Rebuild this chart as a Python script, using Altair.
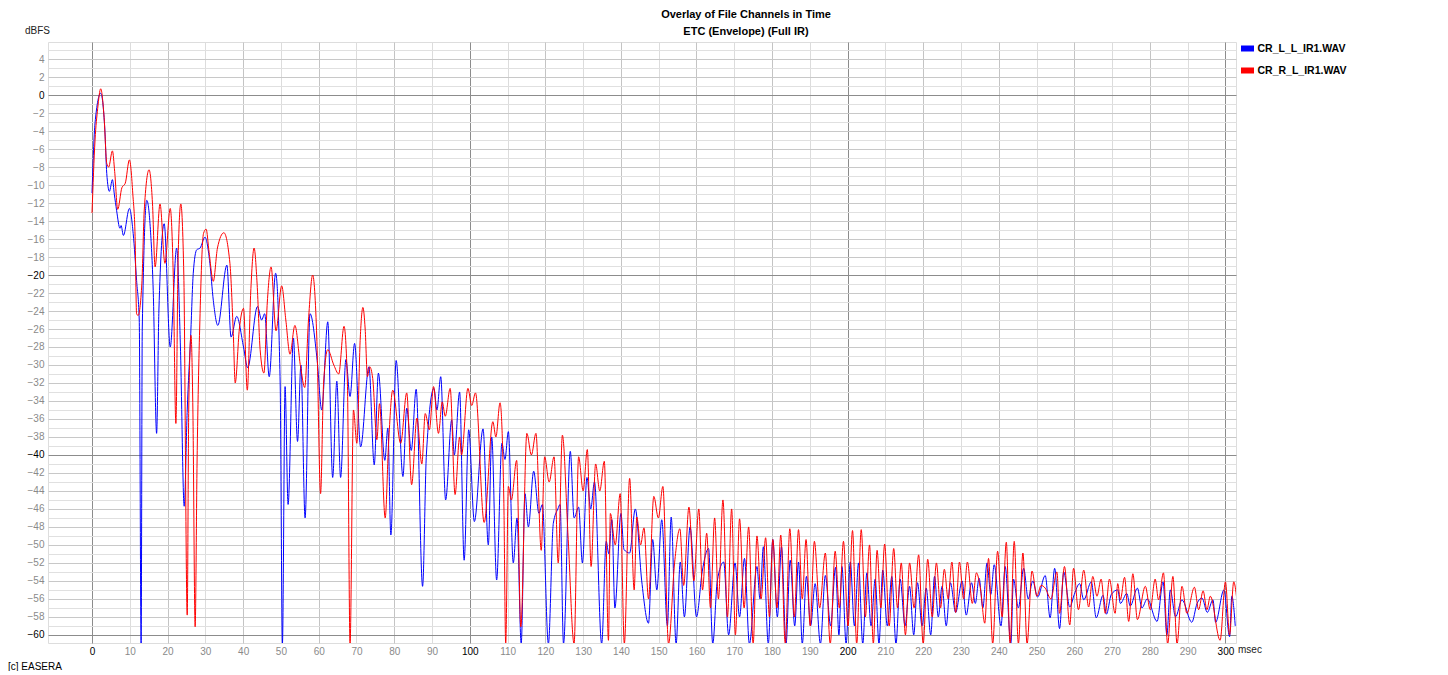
import altair as alt
import pandas as pd

series_names = ["CR_L_L_IR1.WAV", "CR_R_L_IR1.WAV"]
series_colors = ["#0000ff", "#ff0000"]

title_text = "Overlay of File Channels in Time"
subtitle_text = "ETC (Envelope) (Full IR)"
y_unit = "dBFS"
x_unit = "msec"
credit = "[c] EASERA"

x_ticks = list(range(0, 301, 10))
y_grid = list(range(-60, 6))

blue_t = [0.0, 0.8, 2.3, 3.4, 3.9, 4.6, 5.4, 5.9, 6.5, 7.4, 7.7, 8.3, 9.9, 10.9, 11.8, 12.5, 13.0, 13.3, 14.5, 15.4,
          16.2, 17.1, 17.7, 19.1, 20.7, 22.4, 23.4, 24.4, 25.2, 26.1, 26.8, 27.7, 28.6, 29.9, 31.2, 32.1, 33.3, 35.7, 36.8, 38.3,
          40.1, 41.2, 43.8, 44.9, 45.7, 46.9, 48.6, 49.8, 50.4, 51.1, 51.9, 53.3, 54.4, 55.3, 56.4, 57.7, 59.6, 60.8, 62.4, 63.7,
          64.8, 65.8, 67.2, 68.3, 69.5, 71.1, 73.3, 74.7, 75.8, 77.5, 78.3, 79.1, 80.5, 82.3, 83.3, 84.5, 85.8, 87.5, 88.5, 90.5,
          91.3, 92.3, 93.6, 95.2, 95.9, 97.3, 98.5, 99.7, 101.2, 103.5, 104.9, 105.8, 107.1, 108.5, 109.3, 110.2, 111.5, 112.5, 113.6, 114.6,
          115.5, 116.9, 118.3, 119.2, 120.8, 122.1, 123.3, 123.9, 124.8, 126.6, 127.6, 128.8, 129.8, 131.0, 132.0, 133.0, 134.9, 136.1, 136.8, 137.6,
          138.4, 140.0, 140.8, 142.3, 143.8, 145.5, 147.3, 148.4, 149.5, 150.8, 152.3, 153.3, 154.6, 155.7, 156.8, 158.3, 160.0, 161.5, 163.2, 164.3,
          165.5, 167.2, 168.5, 170.2, 171.4, 172.7, 174.0, 176.0, 176.8, 177.7, 179.0, 180.2, 181.4, 182.5, 183.7, 184.8, 186.0, 187.0, 188.0, 189.1,
          190.2, 191.4, 192.8, 194.1, 195.5, 196.8, 197.7, 198.5, 199.6, 200.7, 201.8, 202.9, 204.0, 205.1, 206.2, 207.3, 208.3, 209.3, 210.5, 211.7,
          212.8, 213.9, 215.2, 216.4, 217.5, 218.5, 219.7, 220.8, 222.0, 223.0, 224.0, 225.0, 226.1, 227.2, 228.6, 230.3, 231.4, 232.8, 233.8, 234.8,
          235.8, 236.9, 237.9, 238.8, 240.6, 241.7, 243.2, 243.9, 245.2, 246.6, 247.8, 249.0, 250.3, 252.3, 253.6, 254.8, 256.1, 257.2, 258.8, 260.0,
          261.4, 262.5, 264.5, 265.8, 267.6, 268.5, 269.8, 271.5, 272.2, 273.9, 274.8, 276.7, 277.9, 279.3, 281.9, 283.5, 284.5, 285.4, 286.8, 288.5,
          291.1, 292.5, 293.8, 295.2, 296.7, 297.4, 299.6, 301.1, 301.7, 302.6]
blue_db = [-10.9, -3.1, 0.2, -3.9, -8.7, -10.7, -9.4, -11.0, -12.8, -14.8, -14.5, -15.6, -12.6, -15.4, -20.6, -25.0, -61, -26.0, -11.7, -14.6,
           -21.7, -37.6, -24.0, -14.3, -28.0, -17.0, -28.0, -45.7, -35.0, -26.9, -19.8, -17.2, -17.0, -15.8, -18.7, -22.8, -25.6, -18.9, -26.9, -24.6,
           -28.0, -30.3, -23.5, -25.0, -24.3, -31.3, -19.8, -32.0, -61, -32.4, -45.5, -27.0, -38.5, -30.0, -47.0, -24.3, -29.5, -35.0, -25.2, -42.5,
           -31.8, -42.5, -29.4, -33.5, -27.6, -39.1, -30.2, -41.1, -30.9, -40.6, -37.0, -48.9, -29.5, -42.4, -34.8, -39.5, -32.7, -54.6, -40.0, -32.6,
           -35.0, -31.3, -45.0, -36.1, -40.0, -33.0, -51.7, -37.2, -47.4, -37.1, -50.0, -38.0, -53.9, -38.7, -40.5, -37.4, -52.0, -47.0, -61, -44.3,
           -48.0, -41.8, -46.5, -45.5, -61, -47.6, -46.0, -45.5, -61, -39.6, -47.0, -45.8, -52.0, -42.5, -46.0, -43.0, -61, -49.6, -51.0, -47.2,
           -57.0, -46.5, -50.5, -50.9, -46.0, -54.0, -58.7, -49.4, -55.0, -47.2, -59.0, -46.9, -61, -51.9, -58.0, -48.0, -58.0, -53.0, -50.4, -61,
           -54.0, -51.9, -60.0, -52.0, -58.0, -51.5, -61, -52.4, -56.0, -50.2, -61, -49.4, -58.0, -50.2, -61, -51.7, -59.0, -51.9, -61, -53.5,
           -59.0, -54.3, -61, -53.4, -59.0, -52.5, -60.0, -52.4, -61, -51.9, -59.0, -52.0, -61, -53.1, -59.0, -53.8, -61, -52.8, -59.0, -53.5,
           -61, -53.8, -59.0, -54.6, -60.0, -54.2, -59.0, -54.8, -60.0, -53.5, -58.0, -54.6, -59.0, -54.2, -57.5, -54.0, -57.8, -54.2, -56.5, -53.7,
           -57.0, -52.0, -55.5, -52.2, -59.0, -52.4, -61, -53.8, -57.0, -52.6, -56.0, -54.0, -55.8, -53.4, -58.1, -52.6, -59.3, -53.0, -56.9, -55.5,
           -54.3, -56.1, -54.1, -58.1, -55.6, -57.7, -55.5, -55.0, -56.5, -55.4, -56.8, -54.8, -57.0, -56.0, -58.5, -54.1, -60.0, -55.0, -58.0, -56.1,
           -58.6, -56.5, -55.9, -57.5, -56.1, -58.6, -55.0, -60.2, -55.7, -59.0]

red_t = [0.0, 0.8, 1.5, 2.3, 3.2, 3.9, 4.4, 5.4, 6.0, 6.8, 7.9, 8.8, 9.9, 10.8, 11.4, 11.8, 12.2, 13.2, 13.8, 15.1,
         16.0, 16.7, 18.0, 19.3, 20.7, 21.5, 22.2, 22.8, 23.5, 24.3, 25.2, 25.6, 26.2, 26.7, 27.3, 27.8, 28.6, 29.5, 30.2, 31.0,
         32.1, 33.2, 34.9, 36.5, 37.4, 37.9, 39.0, 40.1, 41.1, 42.0, 42.9, 43.7, 44.5, 45.5, 46.4, 47.4, 48.7, 50.2, 51.3, 52.4,
         53.7, 55.2, 56.3, 57.3, 58.4, 59.5, 60.5, 61.3, 62.4, 64.0, 65.3, 66.7, 67.6, 68.3, 69.2, 70.1, 71.0, 71.7, 72.3, 72.9,
         73.5, 74.3, 75.4, 76.1, 77.6, 78.5, 79.6, 81.7, 83.3, 84.6, 86.0, 87.3, 88.2, 89.3, 90.4, 91.7, 92.7, 93.5, 94.8, 96.1,
         97.3, 97.8, 99.5, 100.5, 101.5, 103.8, 106.1, 106.9, 108.0, 109.0, 109.5, 110.2, 111.0, 112.4, 113.5, 115.1, 116.3, 117.5, 118.9, 119.8,
         121.0, 122.3, 123.4, 124.5, 126.0, 127.6, 128.8, 130.0, 131.1, 132.1, 133.3, 134.4, 135.6, 136.7, 137.2, 138.5, 139.8, 140.9, 142.3, 143.5,
         144.2, 145.2, 146.1, 147.3, 148.7, 149.9, 151.1, 152.6, 154.2, 155.6, 156.6, 158.0, 159.3, 160.6, 161.6, 162.7, 163.7, 164.8, 165.8, 167.0,
         168.2, 169.3, 170.3, 171.4, 172.6, 173.8, 175.0, 176.0, 177.1, 178.3, 179.3, 180.2, 181.3, 182.3, 183.5, 184.7, 185.9, 187.0, 188.0, 189.0,
         190.1, 191.2, 192.6, 194.1, 195.4, 196.7, 197.8, 198.9, 200.1, 201.3, 202.4, 203.6, 204.7, 205.8, 206.8, 207.8, 208.8, 209.8, 211.0, 212.2,
         213.2, 214.2, 215.3, 216.4, 217.6, 218.8, 220.0, 221.2, 222.4, 223.5, 224.6, 225.6, 226.6, 227.6, 228.6, 229.6, 230.7, 231.7, 233.0, 234.1,
         235.2, 236.3, 237.3, 238.4, 239.7, 240.9, 242.0, 243.0, 244.1, 245.2, 246.4, 247.5, 248.8, 250.1, 251.2, 252.3, 253.8, 255.4, 256.1, 257.4,
         258.8, 259.8, 261.1, 262.5, 263.8, 264.9, 266.0, 267.1, 268.2, 269.3, 270.8, 271.5, 272.2, 273.3, 274.4, 275.5, 276.7, 278.8, 280.1, 281.4,
         282.3, 283.6, 284.7, 286.1, 287.2, 288.5, 289.8, 291.8, 292.9, 294.1, 295.1, 296.0, 298.6, 300.0, 301.1, 302.2, 303.0]
red_db = [-13.1, -5.0, -1.5, 0.7, -2.5, -7.6, -8.0, -6.2, -8.5, -12.7, -10.3, -9.8, -7.2, -11.0, -15.7, -24.3, -24.5, -20.9, -13.0, -8.3,
          -12.0, -19.1, -12.1, -18.7, -12.6, -20.0, -36.5, -18.0, -12.1, -20.0, -57.8, -35.0, -26.7, -35.0, -59.1, -41.0, -24.3, -15.4, -14.9, -17.5,
          -20.7, -17.0, -15.3, -18.7, -26.5, -32.0, -26.0, -23.7, -32.8, -22.0, -17.0, -21.0, -28.3, -30.9, -23.0, -19.1, -26.2, -21.2, -25.0, -28.8,
          -25.6, -30.2, -32.5, -25.0, -20.0, -27.0, -44.3, -32.0, -28.3, -30.0, -31.0, -25.7, -32.0, -61, -35.0, -38.7, -27.0, -23.6, -26.0, -31.3,
          -30.2, -31.5, -38.3, -34.3, -47.0, -38.7, -32.8, -38.7, -33.1, -43.3, -35.9, -41.0, -35.4, -37.2, -32.4, -37.6, -34.1, -35.7, -32.6, -44.4,
          -38.0, -40.0, -32.6, -34.5, -33.1, -47.5, -36.3, -38.0, -34.2, -45.0, -61, -43.5, -45.0, -40.6, -59.1, -37.6, -40.0, -37.6, -50.6, -40.2,
          -43.0, -40.2, -52.0, -37.8, -49.0, -61, -40.2, -44.0, -39.4, -52.4, -41.0, -44.0, -40.7, -60.6, -46.5, -50.0, -44.3, -61, -42.6, -55.0,
          -46.9, -50.0, -48.1, -56.0, -44.6, -47.0, -43.5, -61, -52.0, -48.2, -54.5, -45.8, -54.0, -46.0, -55.0, -48.7, -57.0, -47.0, -56.0, -45.0,
          -58.0, -46.0, -60.0, -47.1, -57.0, -48.0, -61, -49.0, -56.0, -49.2, -58.0, -49.4, -57.0, -48.9, -61, -48.2, -58.0, -48.3, -56.0, -49.4,
          -59.0, -49.6, -57.0, -50.9, -61, -50.7, -57.0, -49.6, -59.0, -48.4, -61, -48.3, -58.0, -50.0, -61, -50.6, -57.0, -49.9, -59.0, -50.4,
          -57.0, -52.0, -60.0, -52.0, -57.0, -51.1, -61, -51.6, -58.0, -52.0, -57.0, -52.7, -56.0, -51.9, -57.5, -51.9, -56.0, -51.9, -56.5, -53.1,
          -55.0, -58.7, -51.5, -61, -50.7, -58.0, -49.7, -61, -49.6, -61, -50.9, -61, -52.9, -55.7, -54.5, -54.8, -56.0, -53.0, -57.6, -52.4,
          -58.9, -52.6, -57.2, -52.8, -56.9, -53.5, -55.7, -53.8, -57.6, -53.8, -57.6, -54.3, -56.1, -53.6, -58.5, -53.2, -58.3, -54.6, -57.2, -53.8,
          -56.1, -53.1, -61, -53.5, -61, -54.6, -57.6, -54.7, -57.2, -55.1, -57.2, -55.7, -60.6, -54.1, -60.0, -54.1, -56.0]

df = pd.concat([
    pd.DataFrame({"t": blue_t, "db": blue_db, "series": series_names[0]}),
    pd.DataFrame({"t": red_t, "db": red_db, "series": series_names[1]}),
], ignore_index=True)

FONT = "Liberation Sans"
W, H = 1188, 601

x_scale = alt.Scale(domain=[-11.65, 302.8], nice=False, zero=False)
y_scale = alt.Scale(domain=[-60.9, 5.9], nice=False, zero=False)

x_axis = alt.Axis(
    values=x_ticks, title=None, grid=True, ticks=False, domain=False,
    labelFont=FONT, labelFontSize=10, labelPadding=3, labelFlush=False, labelOverlap=False,
    labelColor={"condition": {"test": "datum.value % 100 === 0", "value": "#000000"}, "value": "#8a8a8a"},
    gridColor={"condition": [{"test": "datum.value % 100 === 0", "value": "#8c8c8c"},
                             {"test": "datum.value % 20 === 0", "value": "#c4c4c4"}], "value": "#dcdcdc"},
    gridOpacity=1,
)
y_axis = alt.Axis(
    values=y_grid, title=None, grid=True, ticks=False, domain=False,
    labelExpr="datum.value % 2 === 0 ? datum.label : ''",
    labelFont=FONT, labelFontSize=10, labelPadding=4, labelFlush=False, labelOverlap=False,
    labelColor={"condition": {"test": "datum.value % 20 === 0", "value": "#000000"}, "value": "#8a8a8a"},
    gridColor={"condition": [{"test": "datum.value % 20 === 0", "value": "#8c8c8c"},
                             {"test": "datum.value % 2 === 0", "value": "#c8c8c8"}], "value": "#e0e0e0"},
    gridOpacity=1,
)

lines = alt.Chart(df).mark_line(strokeWidth=1, interpolate="monotone", clip=True).encode(
    x=alt.X("t:Q", scale=x_scale, axis=x_axis),
    y=alt.Y("db:Q", scale=y_scale, axis=y_axis),
    color=alt.Color("series:N", scale=alt.Scale(domain=series_names, range=series_colors), legend=None),
)

one = pd.DataFrame({"k": [0]})

def label(text, x, y, size=10, weight="normal", align="left", color="#000000"):
    return alt.Chart(one).mark_text(
        font=FONT, fontSize=size, fontWeight=weight, align=align, baseline="middle", color=color
    ).encode(x=alt.value(x), y=alt.value(y), text=alt.value(text))

layers = [lines,
          label(title_text, 698, -27, size=11, weight="bold", align="center"),
          label(subtitle_text, 698, -10, size=11, weight="bold", align="center"),
          label(y_unit, -23, -11, size=10, color="#222222"),
          label(x_unit, 1190, 608, size=10, color="#222222"),
          label(credit, -40, 625, size=10, color="#000000")]

legend_rows = [6.5, 28.5]
for name, col, yy in zip(series_names, series_colors, legend_rows):
    layers.append(alt.Chart(one).mark_rect(color=col).encode(
        x=alt.value(1193), x2=alt.value(1206), y=alt.value(yy - 3), y2=alt.value(yy + 3)))
    layers.append(label(name, 1209.5, yy, size=10.5, weight="bold"))

chart = alt.layer(*layers).properties(
    width=W, height=H,
    padding={"left": 40, "top": 34, "right": 180, "bottom": 28},
    autosize=alt.AutoSizeParams(type="none"),
).configure_view(stroke="#707070", strokeWidth=1).configure(background="white")

chart.save("out.html", embed_options={"renderer": "svg", "actions": False})
